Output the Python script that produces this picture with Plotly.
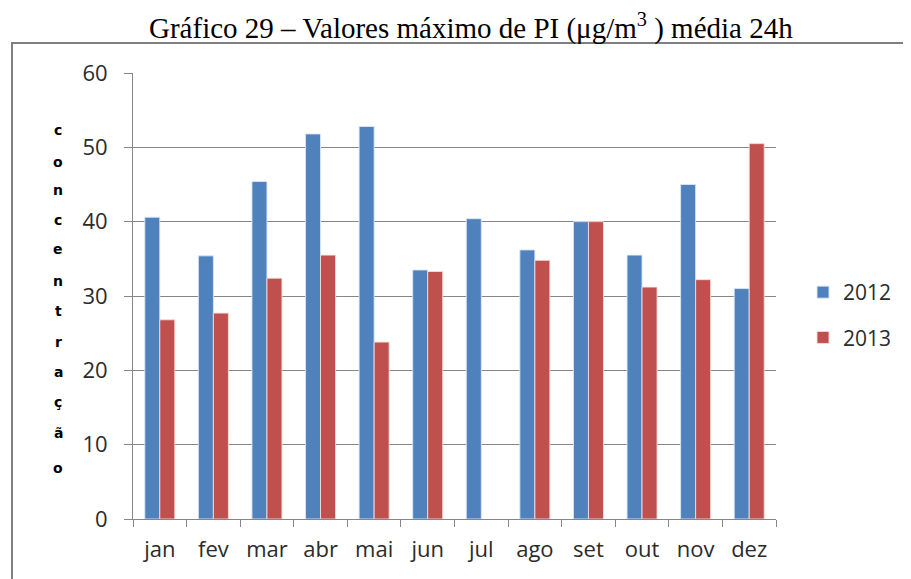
import plotly.graph_objects as go

months = ["jan", "fev", "mar", "abr", "mai", "jun", "jul", "ago", "set", "out", "nov", "dez"]
v2012 = [40.6, 35.4, 45.4, 51.8, 52.8, 33.5, 40.4, 36.2, 40.0, 35.5, 45.0, 31.0]
v2013 = [26.8, 27.7, 32.4, 35.5, 23.8, 33.3, None, 34.8, 40.0, 31.2, 32.2, 50.5]
ylabel_letters = list("concentração")
yticks = [0, 10, 20, 30, 40, 50, 60]

# page has an 8px body margin; figure occupies page px 8..911 x 8..579
OFF = 8
W, H = 911 - OFF, 579 - OFF
PL, PR, PT, PB = 133, 776, 73, 519  # plot area in page px
L, R, T, B = PL - OFF, 911 - PR, PT - OFF, 579 - PB
pw, ph = PR - PL, PB - PT

def px(x):
    return (x - PL) / pw

def py(y):
    return (PB - y) / ph

fig = go.Figure()
fig.add_bar(x=months, y=v2012, name="2012", legendgroup="a",
            marker=dict(color="#4F81BD", line=dict(color="rgba(220,230,245,0.9)", width=1)))
fig.add_bar(x=months, y=v2013, name="2013", legendgroup="b",
            marker=dict(color="#C0504D", line=dict(color="rgba(245,220,220,0.9)", width=1)))

font = "'Open Sans', Lato, sans-serif"
tcol = "#2b2b2b"

fig.update_layout(
    width=W, height=H,
    margin=dict(l=L, r=R, t=T, b=B, autoexpand=False),
    paper_bgcolor="white", plot_bgcolor="white",
    barmode="group", bargap=0.44, bargroupgap=0,
    showlegend=True,
    legend=dict(x=px(803), y=py(272), xanchor="left", yanchor="top",
                font=dict(family=font, size=21, color=tcol),
                traceorder="grouped", tracegroupgap=15, itemwidth=30,
                bgcolor="rgba(0,0,0,0)"),
    xaxis=dict(showline=True, linecolor="#868686", linewidth=1,
               ticks="outside", ticklen=7, tickcolor="#868686", tickson="boundaries",
               tickfont=dict(family=font, size=22, color=tcol), ticklabelstandoff=11,
               showgrid=False),
    yaxis=dict(range=[0, 60], tickvals=yticks, showline=True, linecolor="#868686", linewidth=1,
               ticks="outside", ticklen=8, tickcolor="#868686",
               showgrid=True, gridcolor="#868686", gridwidth=1,
               tickfont=dict(family=font, size=22, color=tcol), ticklabelstandoff=12,
               zeroline=False),
)

# title
fig.add_annotation(text="Gráfico 29 – Valores máximo de PI (μg/m<sup>3</sup> ) média 24h",
                   xref="paper", yref="paper", x=px(471), y=py(27),
                   xanchor="center", yanchor="middle", showarrow=False,
                   font=dict(family="Liberation Serif, 'Times New Roman', serif", size=29, color="black"))

# vertical stacked y label
ys = [130, 162, 190, 220, 249, 281, 311, 342, 372, 402, 433, 468]
for ch, yp in zip(ylabel_letters, ys):
    fig.add_annotation(text="<b>%s</b>" % ch, xref="paper", yref="paper",
                       x=px(58), y=py(yp), xanchor="center", yanchor="middle",
                       showarrow=False, font=dict(family="DejaVu Sans, sans-serif", size=14, color="black"))

# chart border
fig.add_shape(type="rect", xref="paper", yref="paper",
              x0=px(12), x1=px(925), y0=py(600), y1=py(43),
              line=dict(color="#7f7f7f", width=2), fillcolor="rgba(0,0,0,0)", layer="below")

fig.write_html("out.html")
